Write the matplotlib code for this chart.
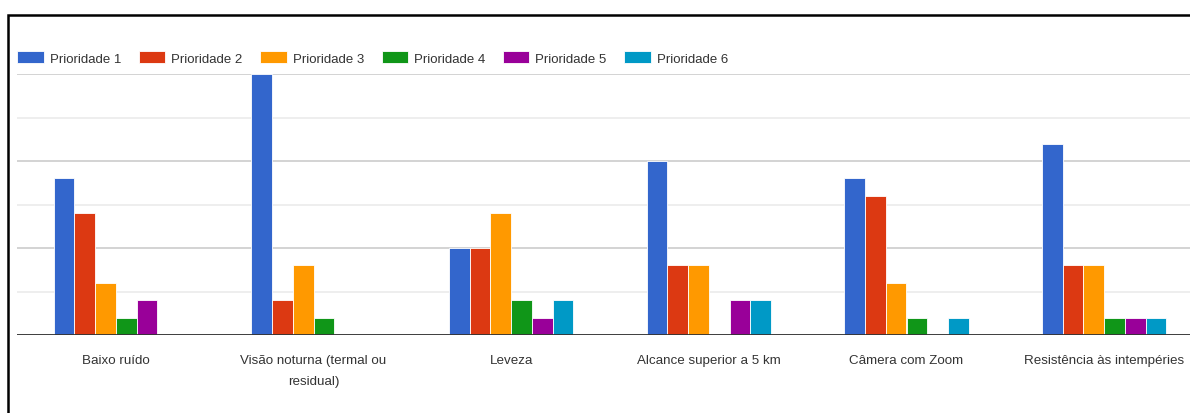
import matplotlib
matplotlib.use('Agg')
import matplotlib.pyplot as plt
from matplotlib.patches import Rectangle
import numpy as np

plt.rcParams['font.family'] = ['Liberation Sans', 'DejaVu Sans']

categories = ['Baixo ruído', 'Visão noturna (termal ou\nresidual)', 'Leveza',
              'Alcance superior a 5 km', 'Câmera com Zoom', 'Resistência às intempéries']
series_names = ['Prioridade 1', 'Prioridade 2', 'Prioridade 3',
                'Prioridade 4', 'Prioridade 5', 'Prioridade 6']
prio1 = [9, 15, 5, 10, 9, 11]
prio2 = [7, 2, 5, 4, 8, 4]
prio3 = [3, 4, 7, 4, 3, 4]
prio4 = [1, 1, 2, 0, 1, 1]
prio5 = [2, 0, 1, 2, 0, 1]
prio6 = [0, 0, 2, 2, 1, 1]
series = [prio1, prio2, prio3, prio4, prio5, prio6]
colors = ['#3366cc', '#dc3912', '#ff9900', '#109618', '#990099', '#0099c6']

W, H = 1190, 414
fig = plt.figure(figsize=(W / 100, H / 100), dpi=100, facecolor='white')

# plot area runs past the right edge, like a cropped screenshot
ax = fig.add_axes([17 / W, (H - 336) / H, 1186 / W, (336 - 75) / H])

x = np.arange(len(categories))
bw = 0.105
offsets = (np.arange(6) - 2.5) * bw
for vals, name, c, off in zip(series, series_names, colors, offsets):
    ax.bar(x + off, vals, width=bw, color=c, edgecolor='white', linewidth=0.6,
           label=name, zorder=3)

ax.set_xlim(-0.5, len(categories) - 0.5)
ax.set_ylim(0, 15)
ax.set_yticks([0, 5, 10, 15])
ax.set_yticks([2.5, 7.5, 12.5], minor=True)
ax.grid(axis='y', which='major', color='#cccccc', linewidth=1.2, zorder=0)
ax.grid(axis='y', which='minor', color='#ebebeb', linewidth=1.2, zorder=0)
ax.axhline(0, color='#333333', linewidth=1.3, zorder=4)
ax.tick_params(axis='y', which='both', length=0, labelleft=False)
ax.set_xticks(x)
ax.set_xticklabels(categories, fontsize=9.6, color='#333333', linespacing=2.0)
ax.tick_params(axis='x', length=0, pad=14)
for s in ax.spines.values():
    s.set_visible(False)

fig.legend(loc='center left', bbox_to_anchor=(12 / W, 1 - 59 / H), ncol=6,
           frameon=False, fontsize=9.5, handlelength=2.0, handleheight=1.05,
           handletextpad=0.45, columnspacing=1.35, borderaxespad=0,
           labelcolor='#333333')

# black outer frame, cut off on the right and bottom
fig.patches.append(Rectangle((8 / W, -0.2), 1.2, 1.2 - 16 / H, transform=fig.transFigure,
                             fill=False, edgecolor='black', linewidth=1.8))

fig.savefig('out.png', dpi=100, facecolor='white')
